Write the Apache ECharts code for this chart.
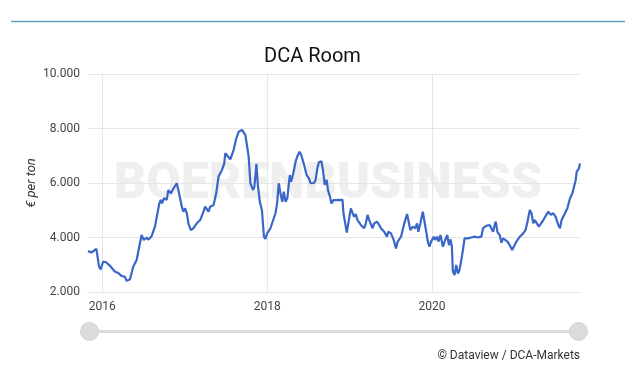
<!DOCTYPE html>
<html>
<head>
<meta charset="utf-8">
<style>html,body{margin:0;padding:0;background:#fff;}#c{width:625px;height:386px;}</style>
<script src="https://cdn.jsdelivr.net/npm/echarts@6/dist/echarts.min.js"></script>
</head>
<body>
<div id="c"></div>
<script>
// x values: decimal years
var dates = [2015.827,2015.868,2015.929,2015.937,2015.961,2015.982,2016.010,2016.043,2016.091,2016.152,2016.192,2016.205,2016.234,2016.274,2016.295,2016.335,2016.347,2016.375,2016.417,2016.477,2016.505,2016.538,2016.558,2016.599,2016.639,2016.692,2016.709,2016.725,2016.749,2016.782,2016.801,2016.831,2016.862,2016.904,2016.923,2016.965,2016.984,2017.005,2017.026,2017.045,2017.074,2017.106,2017.147,2017.188,2017.228,2017.248,2017.269,2017.289,2017.309,2017.350,2017.382,2017.410,2017.452,2017.480,2017.492,2017.513,2017.553,2017.593,2017.626,2017.654,2017.675,2017.696,2017.715,2017.736,2017.776,2017.797,2017.830,2017.845,2017.870,2017.888,2017.912,2017.937,2017.961,2017.979,2018.000,2018.019,2018.040,2018.061,2018.101,2018.121,2018.141,2018.162,2018.183,2018.202,2018.223,2018.244,2018.275,2018.292,2018.317,2018.345,2018.365,2018.393,2018.414,2018.434,2018.454,2018.479,2018.507,2018.527,2018.568,2018.588,2018.609,2018.628,2018.658,2018.677,2018.698,2018.722,2018.738,2018.762,2018.780,2018.804,2018.914,2018.926,2018.966,2018.982,2019.015,2019.035,2019.055,2019.075,2019.096,2019.116,2019.136,2019.157,2019.177,2019.197,2019.218,2019.238,2019.258,2019.279,2019.298,2019.331,2019.359,2019.380,2019.420,2019.453,2019.469,2019.502,2019.535,2019.563,2019.583,2019.624,2019.664,2019.697,2019.713,2019.737,2019.766,2019.786,2019.798,2019.819,2019.834,2019.859,2019.888,2019.916,2019.949,2019.968,2019.989,2020.022,2020.037,2020.062,2020.078,2020.102,2020.132,2020.160,2020.184,2020.205,2020.224,2020.241,2020.253,2020.273,2020.294,2020.314,2020.334,2020.355,2020.375,2020.395,2020.436,2020.476,2020.517,2020.537,2020.558,2020.577,2020.598,2020.619,2020.659,2020.699,2020.720,2020.741,2020.760,2020.773,2020.793,2020.821,2020.842,2020.862,2020.882,2020.915,2020.943,2020.972,2020.996,2021.024,2021.065,2021.106,2021.134,2021.158,2021.186,2021.207,2021.228,2021.247,2021.268,2021.296,2021.320,2021.350,2021.369,2021.410,2021.442,2021.471,2021.499,2021.532,2021.552,2021.572,2021.613,2021.642,2021.674,2021.703,2021.727,2021.743,2021.755,2021.783,2021.795];
var prices = [3500,3450,3580,3420,2930,2830,3110,3100,2970,2750,2700,2750,2590,2560,2410,2460,2590,2930,3175,4090,3910,4000,3920,4050,4400,5250,5380,5250,5440,5380,5740,5620,5790,5990,5740,5130,4950,5070,4880,4520,4275,4340,4520,4640,4950,5130,5070,4950,5130,5190,5620,6230,6480,6720,7090,7150,6870,7210,7640,7880,7880,7950,8000,7760,6970,5990,5740,5860,6700,5900,5300,5000,4030,3945,4150,4080,4340,4400,4890,5250,5990,5620,5310,5680,5310,5430,6290,6050,6350,6780,6970,7150,7030,6970,6600,6290,6170,5990,6000,6110,6540,6760,6800,6480,5930,6110,5740,5500,5250,5370,5380,4890,4180,4210,5070,5130,4760,4860,4640,4700,4460,4520,4340,4520,4830,4640,4640,4340,4520,4580,4460,4340,4210,4030,4210,4150,3910,3600,3850,4030,4520,4860,4640,4270,4400,4460,4340,4520,4210,4520,4950,4460,3850,3660,3850,4030,3910,4030,3850,4090,3660,3910,4090,3720,3930,3660,2750,2620,2990,2680,2810,3170,3540,3970,3970,4000,4030,4090,4000,4050,4030,4340,4430,4460,4400,4210,4460,4580,4210,4090,3810,3970,3910,3850,3720,3540,3600,3850,4030,4150,4270,4580,5010,4890,4520,4640,4670,4400,4460,4640,4700,4950,4830,4890,4760,4460,4340,4640,4890,5070,5440,5620,5680,6110,6420,6540,6720];
var yearTicks = [2016, 2018, 2020];

var font = 'Roboto';
var chart = echarts.init(document.getElementById('c'), null, {renderer: 'canvas'});
var seriesData = dates.map(function (d, i) { return [d, prices[i]]; });
chart.setOption({
  animation: false,
  backgroundColor: '#fff',
  title: {
    text: 'DCA Room', left: 'center', top: 42,
    textStyle: {fontFamily: font, fontSize: 20, fontWeight: 'normal', color: '#111'}
  },
  grid: {left: 88, right: 45, top: 74, bottom: 94},
  xAxis: {
    type: 'value', min: dates[0], max: dates[dates.length - 1],
    axisLine: {show: true, lineStyle: {color: '#e6e6e6'}},
    axisTick: {show: false, customValues: yearTicks},
    axisLabel: {customValues: yearTicks, formatter: function (v) { return String(Math.round(v)); },
      fontFamily: font, fontSize: 12, color: '#444', margin: 9},
    splitLine: {show: true, lineStyle: {color: '#e6e6e6'}}
  },
  yAxis: {
    type: 'value', min: 2000, max: 10000, interval: 2000,
    name: '€ per ton', nameLocation: 'middle', nameGap: 50, nameRotate: 90, nameMoveOverlap: false,
    nameTextStyle: {fontFamily: font, fontSize: 13, fontStyle: 'italic', color: '#333'},
    axisLine: {show: false}, axisTick: {show: false},
    axisLabel: {formatter: function (v) { return (v / 1000).toFixed(3); },
      fontFamily: font, fontSize: 12, color: '#444', margin: 8},
    splitLine: {lineStyle: {color: '#e6e6e6'}}
  },
  dataZoom: [{
    type: 'slider', xAxisIndex: 0, start: 0, end: 100,
    left: 87, right: 47, top: 330, height: 3,
    backgroundColor: '#dcdcdc', borderColor: 'transparent', fillerColor: '#dcdcdc',
    showDataShadow: false, showDetail: false, brushSelect: false, moveHandleSize: 0,
    dataBackground: {lineStyle: {opacity: 0}, areaStyle: {opacity: 0}},
    handleIcon: 'circle', handleSize: '600%',
    handleStyle: {color: '#dcdcdc', borderColor: '#d2d2d2', borderWidth: 1}
  }],
  graphic: [
    {type: 'line', z: -10, shape: {x1: 11, y1: 21.5, x2: 625, y2: 21.5}, style: {stroke: '#5fa3b5', lineWidth: 1.3}},
    {type: 'text', z: -10, left: 114, top: 160, style: {text: 'BOERENBUSINESS', fontFamily: font, fontWeight: 900, fontSize: 50, fill: '#efefef'}},
    {type: 'text', right: 45, top: 350, style: {text: '© Dataview / DCA-Markets', fontFamily: font, fontSize: 12, fill: '#333'}}
  ],
  series: [{
    type: 'line', data: seriesData, showSymbol: false, symbol: 'none',
    lineStyle: {color: '#3a66c8', width: 2.2}, z: 5
  }]
});
</script>
</body>
</html>
